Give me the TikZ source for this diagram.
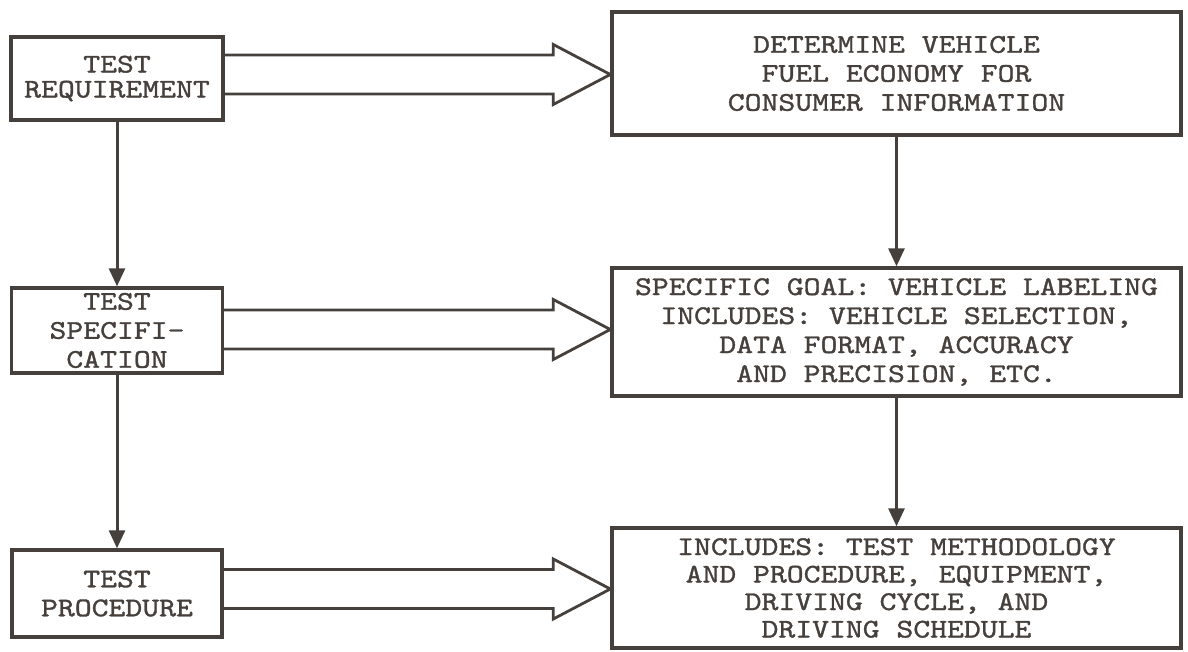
\documentclass[tikz,border=0pt]{standalone}
\usepackage{fontspec}
\newfontfamily\tw{lmmono10-regular.otf}[FakeStretch=1.19,FakeBold=1.2]
\usetikzlibrary{arrows.meta,calc}
\definecolor{ink}{RGB}{70,64,60}
\tikzset{
  box/.style={draw=ink, line width=3.4pt, inner sep=0pt, text=ink, align=center,
    font=\tw\fontsize{27}{29}\selectfont},
  conn/.style={draw=ink, line width=3pt, -{Triangle[length=18pt,width=16pt]}},
  shaft/.style={draw=ink, line width=2.8pt, line join=miter},
}
\newcommand\hollowarrow[3]{%
  \draw[shaft] (#1.east |- 0,#3-19.5)
    -- ($(#2.west |- 0,#3-19.5)+(-57,0)$)
    -- ($(#2.west |- 0,#3-30)+(-57,0)$)
    -- (#2.west |- 0,#3)
    -- ($(#2.west |- 0,#3+30)+(-57,0)$)
    -- ($(#2.west |- 0,#3+19.5)+(-57,0)$)
    -- (#1.east |- 0,#3+19.5);}
\begin{document}
\begin{tikzpicture}[x=1pt,y=-1pt]
\useasboundingbox (0,0) rectangle (1188,652);
% left column
\node[box, minimum width=212pt, minimum height=83pt,
  font=\tw\fontsize{27}{25}\selectfont] (b1) at (117,78.5) {TEST\\REQUIREMENT};
\node[box, minimum width=211pt, minimum height=85pt] (b2) at (117,330.5) {TEST\\SPECIFI-\\CATION};
\node[box, minimum width=210pt, minimum height=87pt] (b3) at (117,593.5) {TEST\\PROCEDURE};
% right column
\node[box, minimum width=569pt, minimum height=123pt] (r1) at (896.5,73.5)
  {DETERMINE VEHICLE\\FUEL ECONOMY FOR\\CONSUMER INFORMATION};
\node[box, minimum width=569pt, minimum height=128pt] (r2) at (896.5,332)
  {SPECIFIC GOAL: VEHICLE LABELING\\INCLUDES: VEHICLE SELECTION,\\DATA FORMAT, ACCURACY\\AND PRECISION, ETC.};
\node[box, minimum width=569pt, minimum height=120pt,
  font=\tw\fontsize{27}{27.5}\selectfont] (r3) at (896.5,588)
  {INCLUDES: TEST METHODOLOGY\\AND PROCEDURE, EQUIPMENT,\\DRIVING CYCLE, AND\\DRIVING SCHEDULE};
% vertical connectors
\draw[conn] (b1.south) -- (b2.north);
\draw[conn] (b2.south) -- (b3.north);
\draw[conn] (r1.south) -- (r2.north);
\draw[conn] (r2.south) -- (r3.north);
% hollow arrows
\hollowarrow{b1}{r1}{74.5}
\hollowarrow{b2}{r2}{329.5}
\hollowarrow{b3}{r3}{589}
\end{tikzpicture}
\end{document}
